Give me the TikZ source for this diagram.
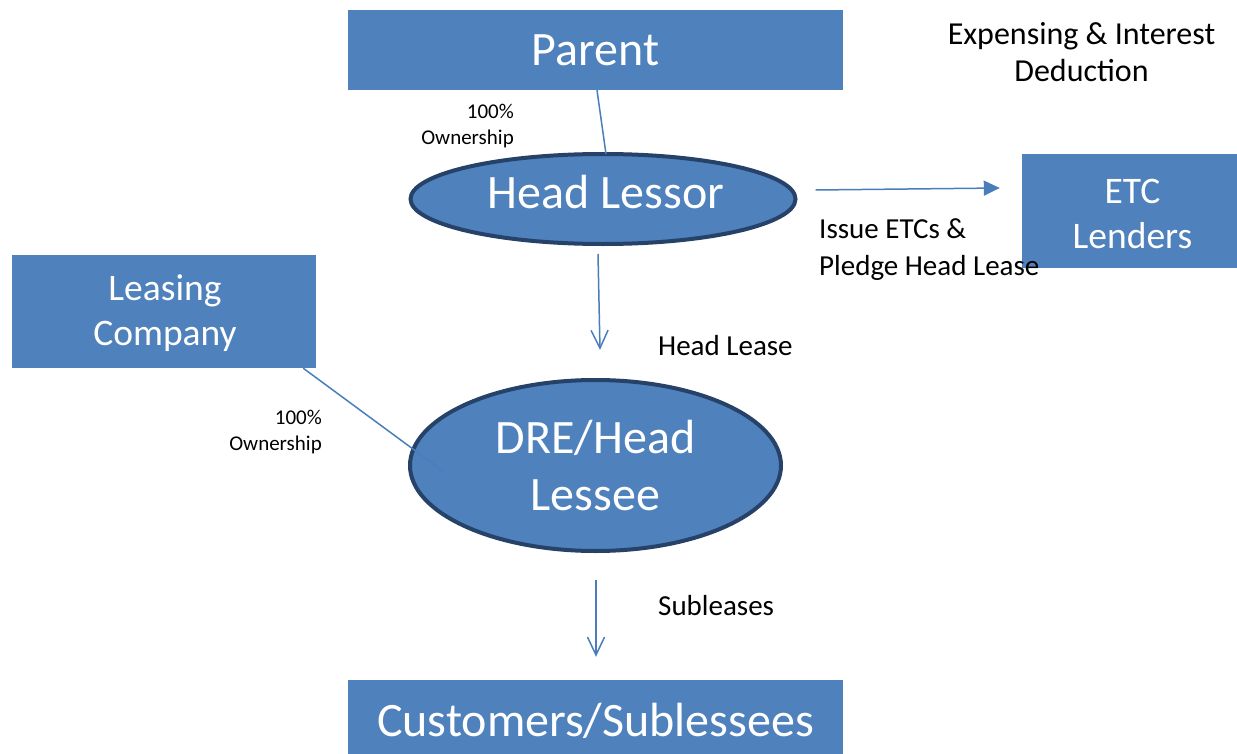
\documentclass[tikz,border=0pt]{standalone}
\usepackage{fontspec}
\setmainfont{Carlito}
\usetikzlibrary{shapes.geometric,arrows.meta,calc}
\definecolor{boxblue}{RGB}{79,129,189}
\definecolor{rimblue}{RGB}{38,66,104}
\definecolor{linkblue}{RGB}{74,126,187}
\begin{document}
\begin{tikzpicture}[x=1bp,y=-1bp,
  box/.style={rectangle, fill=boxblue, text=white, inner sep=0pt, align=center},
  oval/.style={ellipse, fill=boxblue, draw=rimblue, line width=4bp, text=white, inner sep=0pt, align=center},
  intext/.style={inner sep=0pt, text=white, align=center},
  link/.style={draw=linkblue, line width=1.5bp},
  downarrow/.style={link, -{Straight Barb[length=18bp,width=17bp,line width=1.5bp]}},
  solidarrow/.style={link, -{Triangle[length=16bp,width=15bp]}},
  lbl/.style={inner sep=0pt, text=black},
  bigfont/.style={font=\fontsize{48bp}{57bp}\selectfont},
  midfont/.style={font=\fontsize{37.5bp}{45bp}\selectfont},
  labfont/.style={font=\fontsize{29bp}{37bp}\selectfont},
  expfont/.style={font=\fontsize{32bp}{37bp}\selectfont},
  smallfont/.style={font=\fontsize{21bp}{26bp}\selectfont}]
\clip (0,0) rectangle (1237,754);
\fill[white] (0,0) rectangle (1237,754);

\node[box, bigfont, minimum width=495bp, minimum height=80bp] (parent) at (595.5,50) {Parent};
\node[oval, minimum width=385bp, minimum height=90bp] (hl) at (603,199) {};
\node[intext, bigfont] (hltext) at ($(hl.center)+(3,-7)$) {Head Lessor};
\node[box, minimum width=215bp, minimum height=114bp] (etc) at (1129.5,211) {};
\node[intext, midfont] (etctext) at ($(etc.center)+(3,2.5)$) {ETC\\Lenders};
\node[box, minimum width=304bp, minimum height=113bp] (lc) at (164,311.5) {};
\node[intext, midfont] (lctext) at ($(lc.center)+(1,1.5)$) {Leasing\\Company};
\node[oval, bigfont, minimum width=371bp, minimum height=171bp] (dre) at (595.5,465.5) {DRE/Head\\Lessee};
\node[box, bigfont, minimum width=495bp, minimum height=82bp] (cust) at (595.5,721) {Customers/Sublessees};

\node[lbl, smallfont, align=right, anchor=east] (own1) at (514,126) {100\%\\Ownership};
\node[lbl, smallfont, align=right, anchor=east] (own2) at (322,432) {100\%\\Ownership};
\node[lbl, labfont, align=left, anchor=west] (issue) at (819,250) {Issue ETCs \&\\Pledge Head Lease};
\node[lbl, expfont, align=center] (exp) at (1081.5,52) {Expensing \& Interest\\Deduction};
\node[lbl, labfont, anchor=west] (hlease) at (658,346) {Head Lease};
\node[lbl, labfont, anchor=west] (sub) at (658,606) {Subleases};

\draw[link] ($(parent.south)+(1.5,0)$) -- ($(hl.north)+(3,2)$);
\draw[downarrow] ($(hl.south)+(-5,8)$) -- ($(dre.north)+(4.5,-28)$);
\draw[solidarrow] ($(hl.east)+(18,-9)$) -- ($(etc.west)+(-22,-23)$);
\draw[link] ($(lc.south east)+(-13,0)$) -- ($(dre.center)+(-152,6)$);
\draw[downarrow] ($(dre.south)+(0.5,27)$) -- ($(cust.north)+(0.5,-23)$);
\end{tikzpicture}
\end{document}
